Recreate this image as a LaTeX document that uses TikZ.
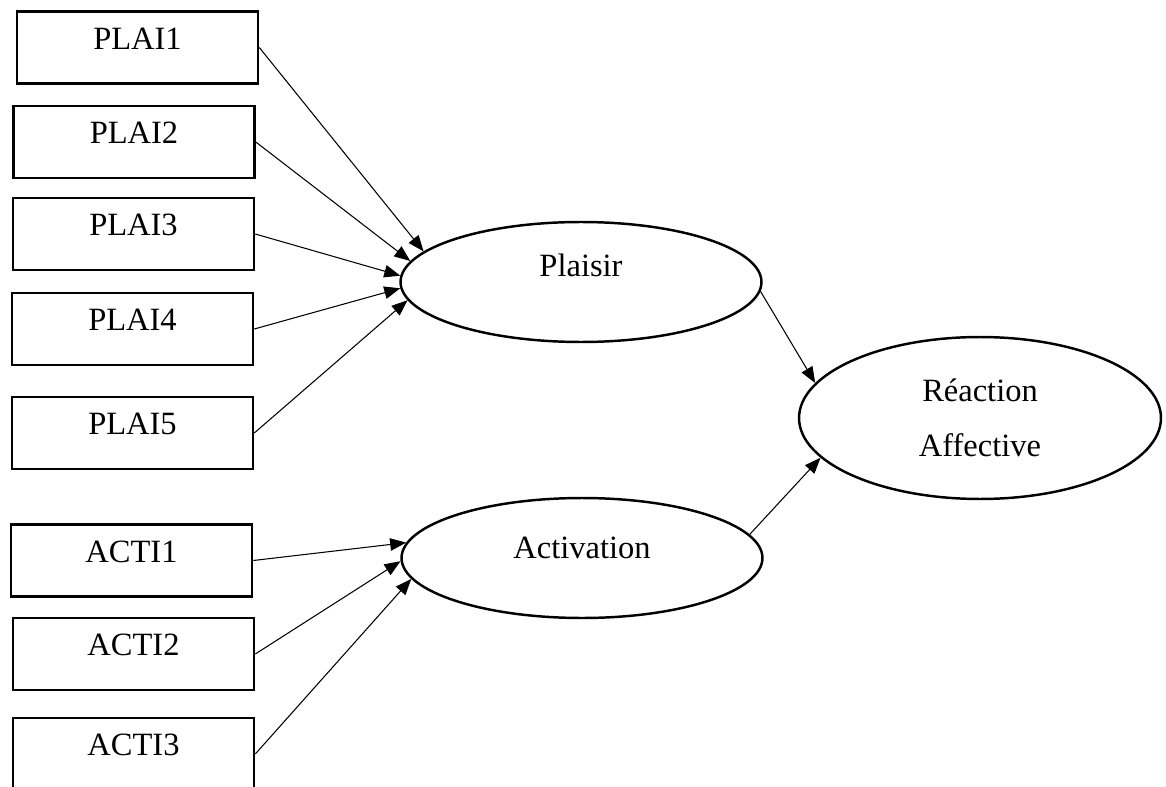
\documentclass[tikz,border=0pt]{standalone}
\usepackage{fontspec}
\setmainfont{Liberation Serif}
\usetikzlibrary{arrows.meta,shapes.geometric}

\tikzset{
  item/.style={draw, line width=1.5pt, minimum width=4.82cm, minimum height=1.44cm,
    text height=12pt, text depth=10pt, inner sep=0pt},
  latent/.style={draw, ellipse, line width=1.4pt, minimum width=7.22cm,
    minimum height=2.4cm, inner sep=0pt},
  link/.style={-{Triangle[length=.32cm,width=.25cm]}, line width=.6pt}
}

\begin{document}
\begin{tikzpicture}[x=.02cm,y=-.02cm,font=\fontsize{18.5}{22}\selectfont]
\useasboundingbox (0,0) rectangle (1166,787);
% items plaisir
\node [item] (plai1) at (137.5,47.5) {PLAI1};
\node [item] (plai2) at (134,142) {PLAI2};
\node [item] (plai3) at (133.5,234) {PLAI3};
\node [item] (plai4) at (132.5,329) {PLAI4};
\node [item] (plai5) at (132.5,433) {PLAI5};
% items activation
\node [item] (acti1) at (131.5,560.5) {ACTI1};
\node [item] (acti2) at (133.5,654) {ACTI2};
\node [item] (acti3) at (133.5,754) {ACTI3};
% latent variables
\node [latent, text height=12pt, text depth=18pt] (plaisir) at (581,282) {Plaisir};
\node [latent, text height=12pt, text depth=11pt] (activation) at (582,558) {Activation};
\node [latent, minimum width=7.24cm, minimum height=3.24cm, align=center]
  (reaction) at (980,418) {Réaction\\[9pt]Affective};
% paths
\foreach \i/\a in {1/169.6,2/173.5,3/178,4/182.5,5/186}
  \draw [link] (plai\i.east) -- (plaisir.\a);
\foreach \i/\a in {1/175.6,2/181,3/187}
  \draw [link] (acti\i.east) -- (activation.\a);
\draw [link] (plaisir.357) -- (reaction.168);
\draw [link] (activation.8) -- (reaction.194);
\end{tikzpicture}
\end{document}
